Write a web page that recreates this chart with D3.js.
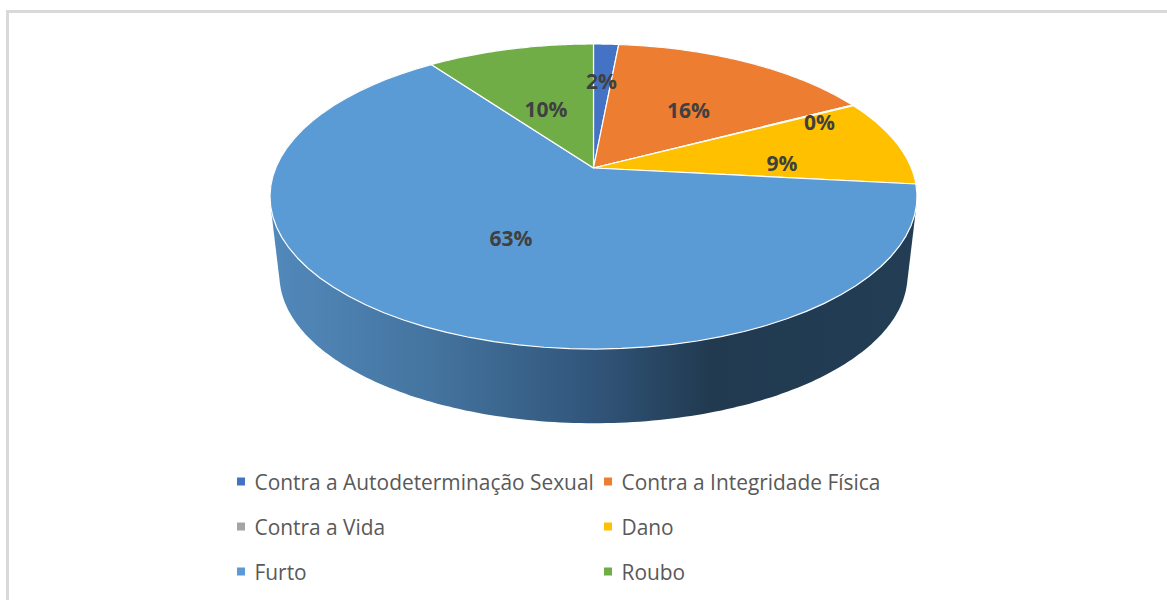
<!DOCTYPE html>
<html><head><meta charset="utf-8">
<script src="https://cdn.jsdelivr.net/npm/d3@7"></script>
<style>html,body{margin:0;padding:0;background:#fff;overflow:hidden}svg{display:block}</style>
</head><body><svg id="c" width="1167" height="600"></svg>
<script>
const categories = ["Contra a Autodeterminação Sexual","Contra a Integridade Física","Contra a Vida","Dano","Furto","Roubo"];
const values = [1.5,15.8,0.1,9.3,63.3,10.0];
const colors = ["#4472c4","#ed7d31","#a5a5a5","#ffc000","#5b9bd5","#70ad47"];
const labelRadius = [0.665,0.535,0.823,0.598,0.498,0.462];
const labelTurn = [-0.3,3.3,4,7.1,-1.4,-2.5];

const svg = d3.select("#c");
const cx = 593.5, k = 0.1869;
const topDisc = {c0:168, R:317.8, S:147.2};
const baseDisc = {c0:247.5, R:308.5, S:142.9};
const project = (a, r, d) => {
  const u = r*Math.sin(a), v = r*Math.cos(a), w = 1 + k*v;
  return [cx + d.R*u/w, d.c0 - d.S*v/w];
};
const arcs = d3.pie().sort(null).value(d=>d)(values);
const line = d3.line();
const rim = (a0,a1,d,n=60) => d3.range(0,n+1).map(i=>project(a0+(a1-a0)*i/n,1,d));

const defs = svg.append("defs");
const grad = defs.append("linearGradient").attr("id","wall").attr("gradientUnits","userSpaceOnUse")
  .attr("x1",270).attr("x2",917).attr("y1",0).attr("y2",0);
[[0,"#5289bb"],[0.25,"#44749f"],[0.5,"#31557a"],[0.68,"#213a50"],[1,"#223d54"]]
  .forEach(s=>grad.append("stop").attr("offset",s[0]).attr("stop-color",s[1]));

// frame
svg.append("path").attr("d","M7.5,600V11.5H1167").attr("fill","none").attr("stroke","#d9d9d9").attr("stroke-width",3);

// wall: silhouette of the drum, covered above by the top face
const hull = d3.polygonHull([...rim(0,2*Math.PI,topDisc,360),...rim(0,2*Math.PI,baseDisc,360)]);
svg.append("path").attr("d",line(hull)+"Z").attr("fill","url(#wall)");

// top slices
svg.selectAll("path.slice").data(arcs).enter().append("path").attr("class","slice")
  .attr("d",d=>line([project(0,0,topDisc),...rim(d.startAngle,d.endAngle,topDisc)])+"Z")
  .attr("fill",(d,i)=>colors[i]).attr("stroke","#fff").attr("stroke-width",1.2).attr("stroke-linejoin","round");

// data labels
svg.selectAll("text.lab").data(arcs).enter().append("text").attr("class","lab")
  .attr("transform",(d,i)=>{
    const p = project((d.startAngle+d.endAngle)/2+labelTurn[i]*Math.PI/180,labelRadius[i],topDisc);
    return `translate(${p[0]},${p[1]})`;
  })
  .attr("text-anchor","middle").attr("dominant-baseline","central")
  .attr("font-family","'Open Sans',sans-serif").attr("font-weight",700).attr("font-size",21).attr("fill","#404040")
  .text(d=>Math.round(d.value)+"%");

// legend
const lx = d3.scalePoint().domain([0,1]).range([237,604]);
const ly = d3.scalePoint().domain([0,1,2]).range([481.5,571.5]);
const lg = svg.selectAll("g.leg").data(categories).enter().append("g").attr("class","leg")
  .attr("transform",(d,i)=>`translate(${lx(i%2)},${ly(Math.floor(i/2))})`);
lg.append("rect").attr("x",0).attr("y",-4).attr("width",8).attr("height",8).attr("fill",(d,i)=>colors[i]);
lg.append("text").attr("x",17.5).attr("dominant-baseline","central")
  .attr("font-family","'Open Sans',sans-serif").attr("font-size",20.9).attr("fill","#595959").text(d=>d);
</script></body></html>
